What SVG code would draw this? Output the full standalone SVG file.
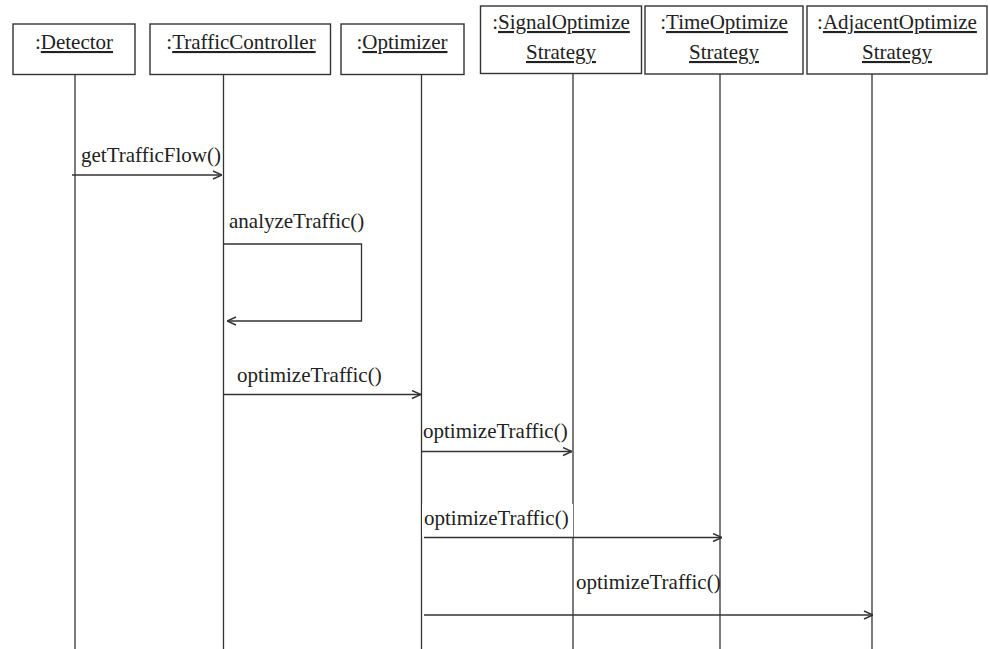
<svg xmlns="http://www.w3.org/2000/svg" width="990" height="649" viewBox="0 0 990 649">
<defs>
<style>
.box{fill:#fff;stroke:#333;stroke-width:1.4}
.life{stroke:#333;stroke-width:1.3;fill:none}
.msg{stroke:#333;stroke-width:1.3;fill:none}
text{font-family:'Liberation Serif','Times New Roman',serif;font-size:21px;fill:#222}
.name{text-decoration:underline}
</style>
<marker id="arr" viewBox="0 0 10 10" refX="10" refY="5" markerWidth="10" markerHeight="10" markerUnits="userSpaceOnUse" orient="auto">
<path d="M1,1 L10,5 L1,9" fill="none" stroke="#333" stroke-width="1.4"/>
</marker>
</defs>
<rect width="990" height="649" fill="#fff"/>
<g id="lifelines">
<line class="life" x1="75" y1="74" x2="75" y2="649"/>
<line class="life" x1="223.5" y1="74" x2="223.5" y2="649"/>
<line class="life" x1="421.5" y1="74" x2="421.5" y2="649"/>
<line class="life" x1="573" y1="74" x2="573" y2="649"/>
<line class="life" x1="720" y1="74" x2="720" y2="649"/>
<line class="life" x1="872" y1="74" x2="872" y2="649"/>
</g>
<g id="detector">
<rect class="box" x="13" y="24" width="122" height="50.5"/>
<text x="74" y="49" text-anchor="middle">:<tspan class="name">Detector</tspan></text>
</g>
<g id="trafficController">
<rect class="box" x="150" y="24" width="180.5" height="50.5"/>
<text x="241" y="49" text-anchor="middle">:<tspan class="name">TrafficController</tspan></text>
</g>
<g id="optimizer">
<rect class="box" x="341" y="24" width="123" height="50.5"/>
<text x="402" y="49" text-anchor="middle">:<tspan class="name">Optimizer</tspan></text>
</g>
<g id="signalOptimizeStrategy">
<rect class="box" x="480.5" y="6" width="161" height="67.5"/>
<text x="561" y="29" text-anchor="middle">:<tspan class="name">SignalOptimize</tspan></text>
<text x="561" y="59" text-anchor="middle" class="name">Strategy</text>
</g>
<g id="timeOptimizeStrategy">
<rect class="box" x="645" y="6" width="158" height="68"/>
<text x="724" y="29" text-anchor="middle">:<tspan class="name">TimeOptimize</tspan></text>
<text x="724" y="59" text-anchor="middle" class="name">Strategy</text>
</g>
<g id="adjacentOptimizeStrategy">
<rect class="box" x="807" y="6" width="180" height="68"/>
<text x="897" y="29" text-anchor="middle">:<tspan class="name">AdjacentOptimize</tspan></text>
<text x="897" y="59" text-anchor="middle" class="name">Strategy</text>
</g>
<g id="connectors">
<line class="msg" x1="72" y1="175" x2="222" y2="175" marker-end="url(#arr)"/>
<text x="81" y="162">getTrafficFlow()</text>
<polyline class="msg" points="223.5,244 361.5,244 361.5,321 227,321" marker-end="url(#arr)"/>
<text x="229" y="228">analyzeTraffic()</text>
<line class="msg" x1="224" y1="394.5" x2="421" y2="394.5" marker-end="url(#arr)"/>
<text x="237" y="382">optimizeTraffic()</text>
<line class="msg" x1="421.5" y1="451.5" x2="572" y2="451.5" marker-end="url(#arr)"/>
<text x="423" y="438">optimizeTraffic()</text>
<rect x="422" y="504" width="151" height="33" fill="#fff"/>
<text x="424" y="525">optimizeTraffic()</text>
<line class="msg" x1="424" y1="537.5" x2="722" y2="537.5" marker-end="url(#arr)"/>
<text x="576" y="589">optimizeTraffic()</text>
<line class="msg" x1="424" y1="615" x2="873" y2="615" marker-end="url(#arr)"/>
</g>
</svg>
